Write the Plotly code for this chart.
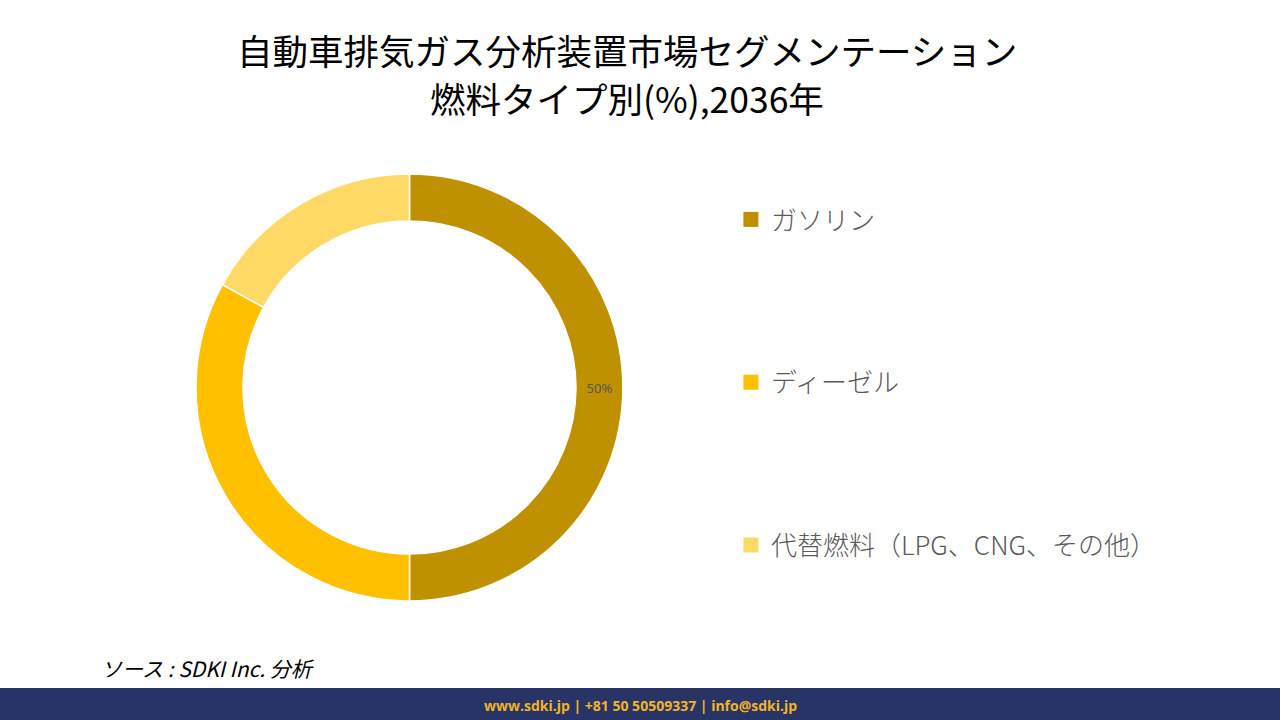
import plotly.graph_objects as go

categories = ["ガソリン", "ディーゼル", "代替燃料（LPG、CNG、その他）"]
values = [50, 33, 17]
slice_labels = ["50%", "", ""]
colors = ["#BF9000", "#FFC000", "#FFD966"]

title_line1 = "自動車排気ガス分析装置市場セグメンテーション"
title_line2 = "燃料タイプ別(%),2036年"
source_text = "ソース : SDKI Inc. 分析"
footer_text = "www.sdki.jp | +81 50 50509337 | info@sdki.jp"

W, H = 1280, 720
cx, cy, r = 409.5, 387.5, 213.5

fig = go.Figure()
fig.add_trace(go.Pie(
    labels=categories,
    values=values,
    text=slice_labels,
    textinfo="text",
    textposition="inside",
    insidetextorientation="horizontal",
    textfont=dict(family="Noto Sans", size=13, color="#595959"),
    marker=dict(colors=colors, line=dict(color="white", width=1.5)),
    hole=0.78,
    sort=False,
    direction="clockwise",
    rotation=0,
    showlegend=False,
    domain=dict(x=[(cx - r) / W, (cx + r) / W], y=[1 - (cy + r) / H, 1 - (cy - r) / H]),
))

for i, (name, col) in enumerate(zip(categories, colors)):
    fig.add_trace(go.Scatter(
        x=[None], y=[None], mode="markers", name=name,
        marker=dict(symbol="square", size=15, color=col),
        legendgroup=f"g{i}", showlegend=True,
    ))

fig.update_layout(
    width=W, height=H,
    margin=dict(l=0, r=0, t=0, b=0),
    paper_bgcolor="white", plot_bgcolor="white",
    xaxis=dict(visible=False), yaxis=dict(visible=False),
    legend=dict(
        x=0.571, y=1 - 196 / H, xanchor="left", yanchor="top",
        font=dict(family="Noto Sans CJK JP", size=26, color="#595959", weight=300),
        tracegroupgap=126, bgcolor="rgba(0,0,0,0)",
        itemsizing="trace",
    ),
    annotations=[
        dict(text=title_line1, x=627 / W, y=1 - 49.5 / H,
             xref="paper", yref="paper", yanchor="middle", showarrow=False, borderpad=0,
             font=dict(family="Noto Sans CJK JP", size=35.5, color="black")),
        dict(text=title_line2, x=627 / W, y=1 - 97.5 / H,
             xref="paper", yref="paper", yanchor="middle", showarrow=False, borderpad=0,
             font=dict(family="Noto Sans CJK JP", size=35.5, color="black")),
        dict(text="<i>" + source_text + "</i>", x=99 / W, y=1 - 668 / H,
             xref="paper", yref="paper", xanchor="left", yanchor="middle", showarrow=False,
             font=dict(family="Noto Sans CJK JP", size=21, color="black")),
        dict(text="<b>" + footer_text + "</b>", x=0.5, y=1 - 705 / H,
             xref="paper", yref="paper", yanchor="middle", showarrow=False,
             font=dict(family="Open Sans", size=14, color="#F0B429")),
    ],
    shapes=[
        dict(type="rect", xref="paper", yref="paper", x0=0, x1=1,
             y0=0, y1=1 - 688 / H, fillcolor="#283466", line=dict(width=0), layer="below"),
    ],
)

fig.write_html(
    "out.html",
    config={"displayModeBar": False},
    post_script="document.body.style.margin='0';document.body.style.padding='0';document.body.style.overflow='hidden';",
)
